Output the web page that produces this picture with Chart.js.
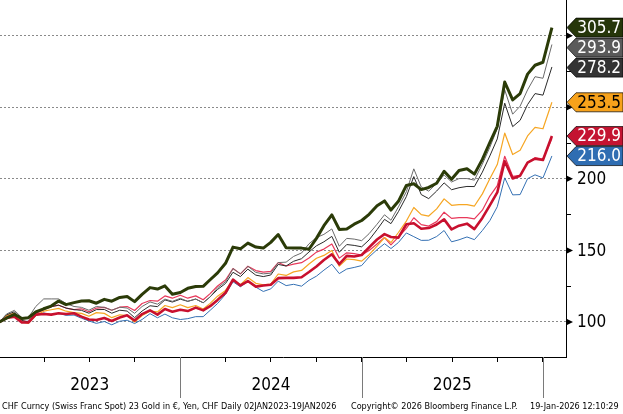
<!DOCTYPE html>
<html>
<head>
<meta charset="utf-8">
<script src="https://cdn.jsdelivr.net/npm/chart.js@4/dist/chart.umd.min.js"></script>
<style>
  html, body { margin: 0; padding: 0; background: #fff; }
  #wrap { width: 623px; height: 414px; position: relative; }
</style>
</head>
<body>
<div id="wrap"><canvas id="chart" width="623" height="414"></canvas></div>
<script>
// semi-monthly sample dates, Jan 2023 - Jan 2026
const dates = [
  '2023-01-02','2023-01-16','2023-02-01','2023-02-16','2023-03-01','2023-03-16','2023-04-01','2023-04-16',
  '2023-05-01','2023-05-16','2023-06-01','2023-06-16','2023-07-01','2023-07-16','2023-08-01','2023-08-16',
  '2023-09-01','2023-09-16','2023-10-01','2023-10-16','2023-11-01','2023-11-16','2023-12-01','2023-12-16',
  '2024-01-01','2024-01-16','2024-02-01','2024-02-16','2024-03-01','2024-03-16','2024-04-01','2024-04-16',
  '2024-05-01','2024-05-16','2024-06-01','2024-06-16','2024-07-01','2024-07-16','2024-08-01','2024-08-16',
  '2024-09-01','2024-09-16','2024-10-01','2024-10-16','2024-11-01','2024-11-16','2024-12-01','2024-12-16',
  '2025-01-01','2025-01-16','2025-02-01','2025-02-16','2025-03-01','2025-03-16','2025-04-01','2025-04-16',
  '2025-05-01','2025-05-16','2025-06-01','2025-06-16','2025-07-01','2025-07-16','2025-08-01','2025-08-16',
  '2025-09-01','2025-09-16','2025-10-01','2025-10-16','2025-11-01','2025-11-16','2025-12-01','2025-12-16',
  '2026-01-01','2026-01-19'
];

// indexed to 100 at 02JAN2023
const greenVals = [
  100, 102.6, 105.3, 102.4, 102.9, 107.0, 109.2, 111.1, 114.6, 112.1, 113.5, 114.6,
  114.8, 113.1, 115.8, 114.5, 117.1, 117.8, 114.2, 119.3, 124.0, 123.0, 125.2, 119.3,
  120.6, 123.5, 124.8, 124.9, 129.5, 134.3, 141.0, 152.3, 151.1, 155.1, 152.3, 151.6,
  155.6, 161.1, 151.8, 151.6, 151.6, 150.8, 158.4, 167.3, 174.8, 164.6, 165.0, 168.3,
  170.9, 175.2, 181.2, 184.6, 178.2, 184.3, 195.4, 196.6, 192.5, 194.0, 196.9, 205.3,
  199.7, 205.8, 207.1, 203.3, 213.6, 225.4, 236.7, 267.7, 255.2, 259.6, 273.2, 279.4,
  281.5, 305.7
];
const grayVals = [
  100, 105.5, 108.1, 103.0, 103.0, 110.8, 116.1, 116.1, 116.1, 112.9, 110.8, 110.2,
  108.2, 110.8, 110.2, 108.2, 110.3, 109.7, 106.0, 110.8, 114.0, 112.4, 116.0, 114.4,
  116.5, 114.4, 116.0, 113.4, 117.5, 123.9, 128.1, 137.3, 133.6, 138.9, 134.6, 133.6,
  134.1, 141.5, 141.8, 145.8, 148.2, 154.6, 159.0, 161.2, 165.0, 152.9, 158.4, 157.9,
  156.8, 161.7, 168.3, 174.9, 171.1, 180.4, 191.0, 207.0, 194.3, 191.4, 196.9, 202.7,
  197.8, 200.2, 200.2, 199.1, 210.3, 222.0, 235.2, 262.2, 245.2, 250.8, 262.2, 271.4,
  270.3, 293.9
];
const blackVals = [
  100, 105.0, 107.1, 101.0, 100.0, 106.1, 109.7, 110.7, 111.7, 109.7, 108.6, 108.1,
  106.1, 108.6, 108.7, 106.1, 108.2, 107.6, 103.0, 107.6, 111.3, 110.7, 115.4, 113.9,
  115.9, 114.4, 116.0, 113.4, 117.5, 122.7, 126.9, 134.7, 131.7, 136.9, 132.7, 131.7,
  132.8, 140.2, 139.1, 142.4, 144.2, 148.9, 153.2, 156.0, 159.8, 148.7, 154.1, 153.5,
  152.5, 157.3, 164.5, 171.7, 168.7, 177.1, 187.6, 201.6, 189.0, 186.2, 191.5, 197.2,
  192.4, 193.8, 194.7, 194.6, 204.7, 216.0, 227.9, 252.9, 236.5, 240.9, 251.9, 259.6,
  258.5, 278.2
];
const orangeVals = [
  100, 104.5, 106.0, 100.0, 99.0, 104.5, 107.5, 108.5, 109.5, 107.5, 106.5, 106.0,
  104.0, 106.5, 106.0, 103.0, 105.0, 104.5, 100.0, 104.5, 107.5, 107.0, 111.5, 110.0,
  112.0, 110.0, 111.5, 109.0, 113.0, 118.0, 122.0, 129.5, 126.0, 131.0, 127.0, 126.0,
  126.5, 133.5, 132.5, 135.0, 136.0, 140.5, 144.5, 146.5, 150.0, 139.0, 144.0, 143.5,
  142.5, 147.0, 153.0, 159.0, 155.5, 162.5, 170.5, 180.0, 175.0, 174.0, 179.0, 186.0,
  181.5, 182.0, 182.0, 181.0, 189.5, 200.0, 210.0, 232.0, 217.0, 220.0, 230.0, 236.0,
  235.0, 253.5
];
const pinkVals = [
  100, 104.5, 106.0, 101.0, 100.0, 105.5, 108.6, 110.7, 111.7, 109.7, 108.6, 109.2,
  107.1, 109.7, 110.2, 108.2, 110.3, 110.8, 108.0, 112.9, 115.0, 114.5, 118.2, 116.6,
  118.7, 116.6, 118.2, 115.5, 119.8, 125.1, 129.3, 137.3, 133.6, 138.9, 135.9, 134.8,
  135.4, 141.5, 139.1, 140.4, 141.4, 144.7, 148.8, 150.9, 154.5, 144.6, 148.3, 147.8,
  146.8, 149.9, 154.5, 159.0, 153.9, 159.3, 165.4, 172.8, 168.0, 167.0, 170.1, 176.7,
  172.4, 172.9, 172.9, 172.0, 178.1, 188.0, 195.3, 215.8, 201.8, 202.4, 211.6, 214.8,
  213.9, 228.2
];
const redVals = [
  100, 102.7, 103.7, 99.6, 99.6, 105.1, 105.6, 105.1, 106.1, 105.6, 106.1, 103.7,
  101.7, 101.4, 102.7, 100.7, 103.1, 104.6, 101.0, 105.5, 108.1, 105.1, 109.0, 107.1,
  108.5, 107.6, 110.0, 108.1, 111.0, 115.4, 120.4, 129.6, 125.5, 128.6, 124.7, 125.5,
  126.0, 130.6, 130.8, 130.8, 131.2, 134.9, 138.8, 143.3, 147.3, 140.4, 146.2, 145.7,
  146.8, 152.1, 157.6, 161.4, 159.4, 158.9, 168.3, 169.0, 165.1, 165.6, 168.1, 171.7,
  164.7, 167.3, 168.7, 164.9, 172.7, 181.5, 190.5, 212.3, 200.3, 202.2, 211.4, 214.1,
  213.2, 229.9
];
const blueVals = [
  100, 104.0, 104.8, 100.0, 100.6, 104.5, 106.3, 105.0, 106.0, 104.6, 104.8, 102.6,
  100.7, 99.0, 100.3, 98.0, 100.5, 101.2, 98.9, 101.7, 105.8, 102.9, 105.5, 102.9,
  101.7, 102.3, 103.7, 103.7, 108.1, 112.9, 119.3, 128.1, 124.6, 128.2, 124.3, 121.3,
  123.1, 128.5, 125.4, 126.3, 125.0, 129.1, 132.0, 136.2, 140.3, 133.8, 137.0, 138.1,
  139.4, 145.4, 150.5, 154.7, 151.3, 155.5, 162.2, 159.6, 157.0, 157.1, 159.7, 163.9,
  156.0, 157.4, 159.4, 157.5, 163.9, 170.8, 180.5, 200.7, 188.8, 189.0, 200.1, 202.8,
  200.7, 216.0
];

const yTicks = [100, 150, 200, 250, 300];
const yLabelled = [100, 150, 200];
const yearLabels = ['2023', '2024', '2025'];
const footerLeft = 'CHF Curncy (Swiss Franc Spot) 23 Gold in €, Yen, CHF Daily 02JAN2023-19JAN2026';
const footerMid = 'Copyright© 2026 Bloomberg Finance L.P.';
const footerRight = '19-Jan-2026 12:10:29';

const FONT = "'DejaVu Sans Condensed', 'DejaVu Sans', sans-serif";

// date string -> decimal year
function toYear(s) {
  const d = new Date(s + 'T00:00:00Z');
  const y = d.getUTCFullYear();
  const start = Date.UTC(y, 0, 1);
  return y + (d - start) / (365 * 86400000);
}
const xs = dates.map(toYear);
const pts = vals => vals.map((v, i) => ({ x: xs[i], y: v }));

const series = [
  { vals: greenVals,  color: '#2b3b08', width: 3,   tag: '#26360a', text: '#fff', order: 1 },
  { vals: grayVals,   color: '#6a6a6a', width: 1,   tag: '#5a5a5a', text: '#fff', order: 3 },
  { vals: blackVals,  color: '#2a2a2a', width: 1,   tag: '#333333', text: '#fff', order: 4 },
  { vals: orangeVals, color: '#f6a623', width: 1.2, tag: '#f7a21b', text: '#000', order: 5 },
  { vals: pinkVals,   color: '#e8385a', width: 1.2, tag: null,      text: '#fff', order: 6 },
  { vals: redVals,    color: '#c8102e', width: 2.6, tag: '#c41331', text: '#fff', order: 2 },
  { vals: blueVals,   color: '#3470b3', width: 1,   tag: '#2f6db2', text: '#fff', order: 7 }
];

// year separators, tick arrows + labels, value tags and footer
const extras = {
  id: 'extras',
  afterDraw(chart) {
    const ctx = chart.ctx;
    const area = chart.chartArea;
    const xs_ = chart.scales.x;
    const ys_ = chart.scales.y;
    ctx.save();

    // long year lines under the axis
    ctx.strokeStyle = '#7a7a7a';
    ctx.lineWidth = 1;
    [2024, 2025, 2026].forEach(yr => {
      const px = Math.round(xs_.getPixelForValue(yr)) + 0.5;
      ctx.beginPath();
      ctx.moveTo(px, area.bottom);
      ctx.lineTo(px, area.bottom + 41);
      ctx.stroke();
    });

    // arrow heads and labels on the major y ticks
    ctx.font = '17px ' + FONT;
    ctx.textBaseline = 'middle';
    ctx.textAlign = 'left';
    yTicks.forEach(v => {
      const py = ys_.getPixelForValue(v);
      ctx.fillStyle = '#000';
      ctx.beginPath();
      ctx.moveTo(area.right, py - 3.5);
      ctx.lineTo(area.right + 7, py);
      ctx.lineTo(area.right, py + 3.5);
      ctx.closePath();
      ctx.fill();
      if (yLabelled.includes(v)) ctx.fillText(String(v), area.right + 11, py + 1);
    });

    // last value tags
    const tags = series.filter(s => s.tag).map(s => {
      const v = s.vals[s.vals.length - 1];
      return { s, v, y: ys_.getPixelForValue(v) };
    }).sort((a, b) => b.v - a.v);
    for (let i = 1; i < tags.length; i++) {
      if (tags[i].y < tags[i - 1].y + 20) tags[i].y = tags[i - 1].y + 20;
    }
    const h = 19;
    const x0 = area.right + 1;
    ctx.textAlign = 'right';
    tags.forEach(t => {
      const yc = t.y;
      ctx.beginPath();
      ctx.moveTo(x0, yc);
      ctx.lineTo(x0 + 9, yc - h / 2);
      ctx.lineTo(chart.width, yc - h / 2);
      ctx.lineTo(chart.width, yc + h / 2);
      ctx.lineTo(x0 + 9, yc + h / 2);
      ctx.closePath();
      ctx.fillStyle = t.s.tag;
      ctx.fill();
      ctx.strokeStyle = 'rgba(0,0,0,0.7)';
      ctx.lineWidth = 1;
      ctx.stroke();
      ctx.fillStyle = t.s.text;
      ctx.fillText(t.v.toFixed(1), chart.width - 2, yc + 1);
    });

    // footer line
    ctx.fillStyle = '#000';
    ctx.font = '9px ' + FONT;
    ctx.textAlign = 'left';
    ctx.fillText(footerLeft, 2, 407, 336);
    ctx.fillText(footerMid, 351, 407, 168);
    ctx.fillText(footerRight, 530, 407, 92);
    ctx.restore();
  }
};

new Chart(document.getElementById('chart'), {
  type: 'line',
  data: {
    datasets: series.map(s => ({
      data: pts(s.vals),
      borderColor: s.color,
      borderWidth: s.width,
      pointRadius: 0,
      tension: 0,
      borderJoinStyle: 'round',
      order: s.order
    }))
  },
  options: {
    responsive: false,
    animation: false,
    layout: { padding: 0 },
    plugins: { legend: { display: false }, tooltip: { enabled: false } },
    scales: {
      x: {
        type: 'linear',
        min: 2023.0055,
        max: 2026.127,
        afterBuildTicks: scale => {
          const t = [];
          for (let q = 2023.25; q <= 2026.0001; q += 0.25) t.push({ value: q });
          scale.ticks = t;
        },
        afterFit: scale => { scale.height = 57; },
        grid: { drawOnChartArea: false, drawTicks: true, tickLength: 5, color: '#000', tickColor: '#000' },
        border: { display: true, color: '#000', width: 1 },
        ticks: {
          autoSkip: false,
          maxRotation: 0,
          padding: 13,
          color: '#000',
          font: { family: FONT, size: 17 },
          callback: v => {
            const frac = Math.round((v % 1) * 100);
            if (frac === 50) return yearLabels[Math.floor(v) - 2023] || '';
            return '';
          }
        }
      },
      y: {
        position: 'right',
        min: 75.5,
        max: 325,
        afterBuildTicks: scale => {
          const t = [];
          for (let v = 100; v <= 300; v += 25) t.push({ value: v });
          scale.ticks = t;
        },
        afterFit: scale => { scale.width = 57; },
        grid: {
          drawOnChartArea: true,
          drawTicks: true,
          tickLength: 5,
          lineWidth: 1,
          color: c => (c.tick && c.tick.value % 50 === 0) ? '#8a8a8a' : 'rgba(0,0,0,0)',
          tickColor: '#000'
        },
        border: { display: true, color: '#000', width: 1, dash: [2, 2] },
        ticks: { display: false }
      }
    }
  },
  plugins: [extras]
});
</script>
</body>
</html>
